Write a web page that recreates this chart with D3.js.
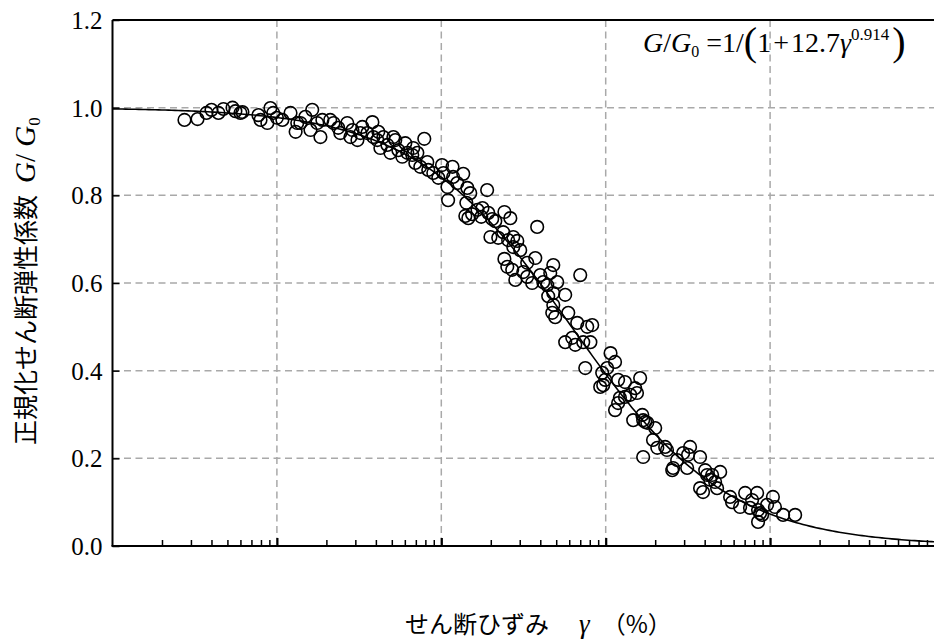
<!DOCTYPE html>
<html><head><meta charset="utf-8">
<script src="https://cdn.jsdelivr.net/npm/d3@7"></script>
<style>
html,body{margin:0;padding:0;background:#fff;}
svg{display:block;}
</style>
</head><body>
<svg id="chart" width="934" height="642"></svg>
<script>
// ---- data ----
const strainPct = [
2.74e-4,3.29e-4,3.73e-4,4.0e-4,4.41e-4,4.73e-4,5.37e-4,5.59e-4,6.0e-4,6.17e-4,
7.72e-4,7.95e-4,8.75e-4,9.13e-4,9.5e-4,1.0e-3,1.08e-3,1.21e-3,1.30e-3,1.33e-3,
1.39e-3,1.49e-3,1.64e-3,1.60e-3,1.76e-3,1.84e-3,1.89e-3,2.11e-3,2.21e-3,2.36e-3,
2.43e-3,2.68e-3,2.80e-3,2.88e-3,3.09e-3,3.22e-3,3.31e-3,3.55e-3,3.81e-3,3.86e-3,
4.08e-3,4.14e-3,4.44e-3,4.26e-3,4.70e-3,4.90e-3,5.11e-3,5.25e-3,5.48e-3,5.79e-3,
6.04e-3,6.21e-3,6.66e-3,6.75e-3,7.15e-3,7.45e-3,7.88e-3,6.95e-3,8.22e-3,8.33e-3,
8.94e-3,9.59e-3,1.01e-2,1.03e-2,1.09e-2,1.10e-2,1.18e-2,1.25e-2,1.17e-2,1.36e-2,
1.44e-2,1.50e-2,1.42e-2,1.90e-2,1.40e-2,1.46e-2,1.54e-2,1.66e-2,1.75e-2,1.78e-2,
1.93e-2,2.04e-2,2.13e-2,2.42e-2,2.63e-2,3.83e-2,1.99e-2,2.22e-2,2.38e-2,2.55e-2,
2.74e-2,2.90e-2,3.02e-2,2.74e-2,2.42e-2,2.52e-2,2.70e-2,2.82e-2,3.15e-2,3.33e-2,
3.33e-2,3.57e-2,3.73e-2,4.0e-2,4.17e-2,4.41e-2,4.60e-2,4.80e-2,5.07e-2,4.47e-2,
4.80e-2,5.67e-2,7.0e-2,4.73e-2,4.93e-2,5.92e-2,6.71e-2,7.72e-2,8.28e-2,5.67e-2,
6.26e-2,7.30e-2,8.07e-2,4.80e-2,6.53e-2,7.51e-2,1.07e-1,1.14e-1,1.02e-1,9.52e-2,
9.93e-2,9.26e-2,9.66e-2,1.19e-1,1.31e-1,1.62e-1,1.51e-1,1.55e-1,1.41e-1,1.22e-1,
1.19e-1,1.14e-1,1.31e-1,1.47e-1,1.69e-1,1.79e-1,2.0e-1,1.94e-1,2.06e-1,2.30e-1,
2.36e-1,1.69e-1,2.57e-1,2.72e-1,2.96e-1,3.26e-1,3.13e-1,2.54e-1,3.75e-1,1.67e-1,
1.74e-1,3.17e-1,3.75e-1,4.03e-1,4.14e-1,4.32e-1,4.44e-1,4.97e-1,3.91e-1,4.76e-1,
4.63e-1,5.71e-1,5.87e-1,6.57e-1,7.05e-1,7.77e-1,8.34e-1,7.55e-1,8.45e-1,8.94e-1,
8.69e-1,9.59e-1,8.45e-1,1.04,1.07,1.20,1.42
];
const shearRatio = [
0.972,0.974,0.988,0.995,0.988,0.997,1.0,0.992,0.988,0.990,
0.983,0.972,0.965,0.999,0.988,0.977,0.972,0.988,0.945,0.965,
0.965,0.979,0.995,0.949,0.965,0.933,0.972,0.972,0.965,0.954,
0.942,0.965,0.933,0.949,0.926,0.942,0.956,0.942,0.967,0.933,
0.926,0.945,0.933,0.908,0.915,0.897,0.933,0.926,0.903,0.888,
0.919,0.897,0.892,0.908,0.897,0.865,0.929,0.874,0.876,0.858,
0.851,0.840,0.869,0.851,0.819,0.789,0.842,0.828,0.865,0.849,
0.817,0.805,0.783,0.812,0.753,0.748,0.757,0.767,0.751,0.771,
0.760,0.746,0.741,0.762,0.748,0.728,0.705,0.703,0.716,0.698,
0.705,0.696,0.675,0.682,0.655,0.637,0.630,0.607,0.625,0.614,
0.646,0.600,0.657,0.618,0.602,0.595,0.623,0.641,0.602,0.570,
0.577,0.573,0.618,0.532,0.522,0.532,0.509,0.500,0.504,0.465,
0.475,0.465,0.465,0.550,0.459,0.406,0.440,0.420,0.406,0.395,
0.379,0.363,0.367,0.379,0.374,0.383,0.360,0.349,0.345,0.338,
0.326,0.310,0.340,0.287,0.287,0.281,0.269,0.242,0.224,0.226,
0.219,0.203,0.178,0.196,0.212,0.226,0.178,0.173,0.132,0.299,
0.283,0.208,0.203,0.173,0.162,0.151,0.162,0.169,0.123,0.132,
0.146,0.112,0.100,0.089,0.121,0.105,0.121,0.087,0.082,0.071,
0.075,0.094,0.055,0.112,0.089,0.071,0.071
];
// fitted curve shown in the chart: G/G0 = 1/(1+A*γ^B)
const fitA = 12.7;
const fitB = 0.914;
const yTickValues = [0, 0.2, 0.4, 0.6, 0.8, 1.0, 1.2];
const xGridValues = [1e-3, 1e-2, 1e-1, 1];
const xDomain = [1e-4, 10];

// ---- layout ----
const svg = d3.select("#chart");
const pLeft = 112.5, pRight = 934.5, pTop = 20, pBottom = 546;
const x = d3.scaleLog().domain(xDomain).range([pLeft, pRight]);
const y = d3.scaleLinear().domain([0, 1.2]).range([pBottom, pTop]);
const serif = "'Liberation Serif','Times New Roman',serif";
const cjk = "'Noto Sans CJK JP','Noto Sans CJK SC',sans-serif";

// grid
svg.append("g").selectAll("line").data(yTickValues.filter(v => v > 0 && v < 1.2)).join("line")
  .attr("x1", pLeft).attr("x2", pRight).attr("y1", d => y(d)).attr("y2", d => y(d))
  .attr("stroke", "#a9a9a9").attr("stroke-width", 1.5).attr("stroke-dasharray", "7,4.5");
svg.append("g").selectAll("line").data(xGridValues).join("line")
  .attr("x1", d => x(d)).attr("x2", d => x(d)).attr("y1", pTop).attr("y2", pBottom)
  .attr("stroke", "#a9a9a9").attr("stroke-width", 1.5).attr("stroke-dasharray", "7,4.5");

// top border
svg.append("line").attr("x1", pLeft).attr("x2", pRight).attr("y1", pTop).attr("y2", pTop)
  .attr("stroke", "#000").attr("stroke-width", 2);

// x axis (inside ticks, no labels)
const minorTicks = [];
for (let e = -4; e < 1; e++) for (let m = 2; m <= 9; m++) minorTicks.push(m * Math.pow(10, e));
const xAxisMinor = d3.axisBottom(x).tickValues(minorTicks).tickSize(-6).tickFormat("");
const xAxisMajor = d3.axisBottom(x).tickValues([1e-3,1e-2,1e-1,1]).tickSize(-8).tickFormat("");
const gxm = svg.append("g").attr("transform", `translate(0,${pBottom})`).call(xAxisMinor);
gxm.selectAll(".tick line").attr("stroke", "#000").attr("stroke-width", 1.5);
gxm.select(".domain").remove();
const gxM = svg.append("g").attr("transform", `translate(0,${pBottom})`).call(xAxisMajor);
gxM.selectAll(".tick line").attr("stroke", "#000").attr("stroke-width", 2.2);
gxM.select(".domain").remove();
svg.append("line").attr("x1", pLeft - 1).attr("x2", pRight).attr("y1", pBottom).attr("y2", pBottom)
  .attr("stroke", "#000").attr("stroke-width", 2);

// y axis
const yAxis = d3.axisLeft(y).tickValues(yTickValues).tickSize(-7).tickPadding(10).tickFormat(d3.format(".1f"));
const gy = svg.append("g").attr("transform", `translate(${pLeft},0)`).call(yAxis);
gy.select(".domain").attr("stroke", "#000").attr("stroke-width", 2).attr("d", `M0,${pTop}V${pBottom}`);
gy.selectAll(".tick line").attr("stroke", "#000").attr("stroke-width", 1.5);
gy.selectAll(".tick text").attr("font-family", serif).attr("font-size", 25).attr("fill", "#000")
  .attr("dy", "0.34em");

// fitted curve
const curvePts = d3.range(-4, 1.0001, 0.02).map(l => Math.pow(10, l));
const line = d3.line().x(d => x(d)).y(d => y(1 / (1 + fitA * Math.pow(d, fitB))));
svg.append("path").datum(curvePts).attr("d", line)
  .attr("fill", "none").attr("stroke", "#000").attr("stroke-width", 1.6);

// points
svg.append("g").selectAll("circle").data(strainPct.map((s, i) => [s, shearRatio[i]])).join("circle")
  .attr("cx", d => x(d[0])).attr("cy", d => y(d[1])).attr("r", 6.3)
  .attr("fill", "none").attr("stroke", "#000").attr("stroke-width", 1.6);

// formula
const f = svg.append("text").attr("x", 643).attr("y", 52).attr("font-family", serif).attr("font-size", 28).attr("fill", "#000");
f.append("tspan").attr("font-style", "italic").text("G");
f.append("tspan").text("/");
f.append("tspan").attr("font-style", "italic").text("G");
f.append("tspan").attr("font-size", 16).attr("dy", 5).text("0");
f.append("tspan").attr("dy", -5).attr("dx", 7).text("=1/");
f.append("tspan").attr("font-size", 40).attr("dy", 3).text("(");
f.append("tspan").attr("dy", -3).text("1");
f.append("tspan").attr("dx", 2).text("+");
f.append("tspan").attr("dx", 2).text("12.7");
f.append("tspan").attr("font-style", "italic").text("γ");
f.append("tspan").attr("font-size", 17).attr("dy", -12).text("0.914");
f.append("tspan").attr("font-size", 40).attr("dy", 15).attr("dx", 3).text(")");

// y title
const yt = svg.append("text").attr("transform", "translate(35,445) rotate(-90)")
  .attr("font-size", 25).attr("fill", "#000");
yt.append("tspan").attr("font-family", cjk).text("正規化せん断弾性係数");
yt.append("tspan").attr("font-family", serif).attr("font-size", 29).attr("font-style", "italic").attr("dx", 12).text("G");
yt.append("tspan").attr("font-family", serif).attr("font-size", 29).text("/ ");
yt.append("tspan").attr("font-family", serif).attr("font-size", 29).attr("font-style", "italic").text("G");
yt.append("tspan").attr("font-family", serif).attr("font-size", 17).attr("dy", 5).text("0");

// x title
const xt = svg.append("text").attr("x", 405).attr("y", 633).attr("font-size", 24).attr("fill", "#000");
xt.append("tspan").attr("font-family", cjk).text("せん断ひずみ");
xt.append("tspan").attr("font-family", serif).attr("font-style", "italic").attr("font-size", 27).attr("dx", 30).text("γ");
xt.append("tspan").attr("font-family", cjk).attr("dx", 12).text("（%）");
</script>
</body></html>
